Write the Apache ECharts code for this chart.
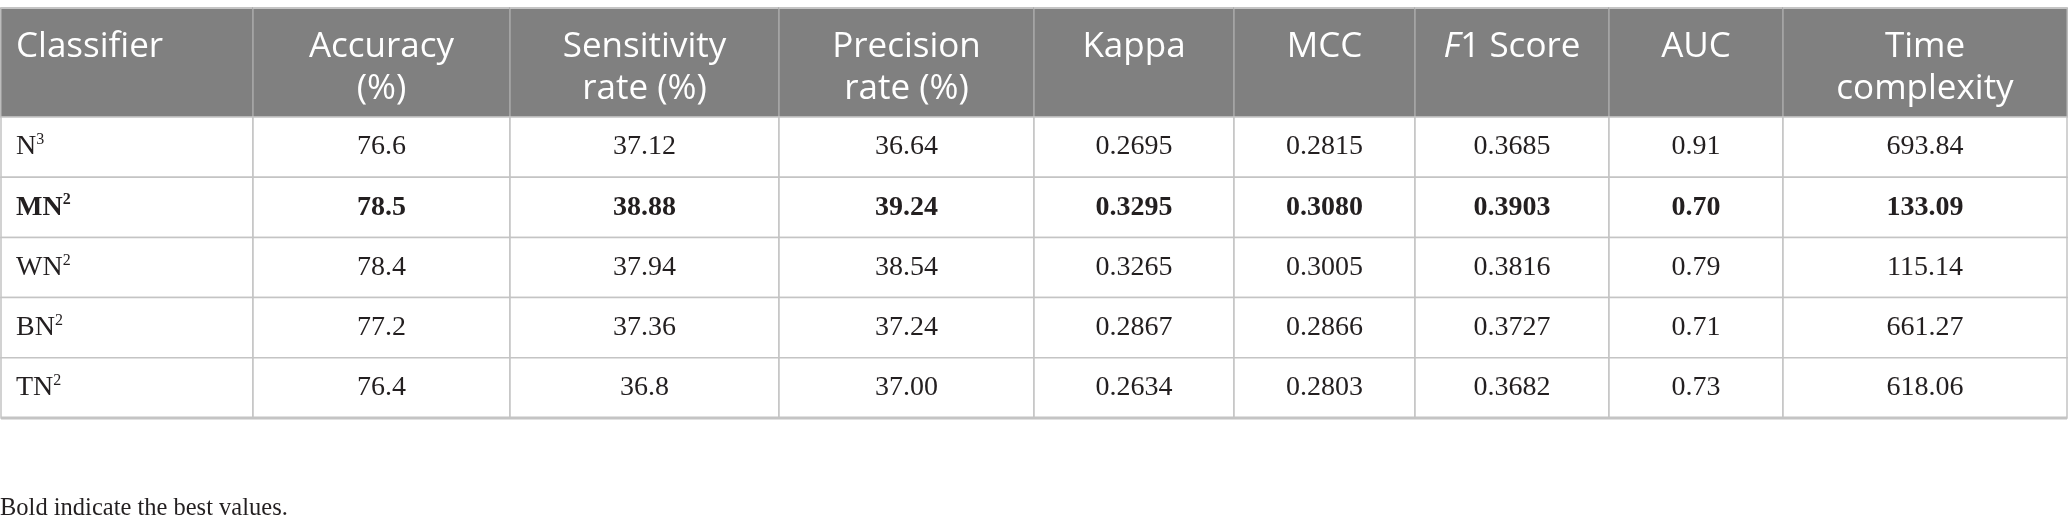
<!DOCTYPE html>
<html>
<head>
<meta charset="utf-8">
<title>Classifier comparison</title>
<script src="https://cdn.jsdelivr.net/npm/echarts@6/dist/echarts.min.js"></script>
<style>
html, body { margin: 0; padding: 0; background: #fff; }
#main { width: 2068px; height: 532px; }
</style>
</head>
<body>
<div id="main"></div>
<script>
// table content
var headers = ['Classifier', 'Accuracy\n(%)', 'Sensitivity\nrate (%)', 'Precision\nrate (%)', 'Kappa', 'MCC', 'F1 Score', 'AUC', 'Time\ncomplexity'];
var classifierBase = ['N', 'MN', 'WN', 'BN', 'TN'];
var classifierPower = ['3', '2', '2', '2', '2'];
var accuracy = ['76.6', '78.5', '78.4', '77.2', '76.4'];
var sensitivity = ['37.12', '38.88', '37.94', '37.36', '36.8'];
var precision = ['36.64', '39.24', '38.54', '37.24', '37.00'];
var kappa = ['0.2695', '0.3295', '0.3265', '0.2867', '0.2634'];
var mcc = ['0.2815', '0.3080', '0.3005', '0.2866', '0.2803'];
var f1Score = ['0.3685', '0.3903', '0.3816', '0.3727', '0.3682'];
var auc = ['0.91', '0.70', '0.79', '0.71', '0.73'];
var timeComplexity = ['693.84', '133.09', '115.14', '661.27', '618.06'];
var bestRow = 1;
var footnote = 'Bold indicate the best values.';

// layout: column widths in px units of the x axis, header height in row units
var colWidths = [252, 257, 269, 255, 200, 181, 194, 174, 284];
var headerSpan = 1.81;

var colEdges = [0];
colWidths.forEach(function (w, i) { colEdges.push(colEdges[i] + w); });
var columns = [null, accuracy, sensitivity, precision, kappa, mcc, f1Score, auc, timeComplexity];

var cells = [];
for (var r = -1; r < classifierBase.length; r++) {
    for (var c = 0; c < headers.length; c++) {
        cells.push([c, r]);
    }
}

var headFont = { fontFamily: '"Open Sans", "Noto Sans", sans-serif', fontSize: 35, fill: '#fff', lineHeight: 42 };
function headStyle(extra) {
    return Object.assign({}, headFont, extra || {});
}

function cellText(c, r) {
    if (r < 0) {
        if (c === 6) return '{hi|F}{h|1 Score}';
        return headers[c].split('\n').map(function (s) { return '{h|' + s + '}'; }).join('\n');
    }
    var w = r === bestRow ? 'b' : 'n';
    if (c === 0) return '{' + w + '|' + classifierBase[r] + '}{s' + w + '|' + classifierPower[r] + '}';
    return '{' + w + '|' + columns[c][r] + '}';
}

var bodyFont = { fontFamily: '"Liberation Serif", "DejaVu Serif", serif', fontSize: 28, fill: '#231f20', lineHeight: 30, verticalAlign: 'middle' };
var rich = {
    h: headStyle(),
    hi: headStyle({ fontStyle: 'italic' }),
    n: Object.assign({}, bodyFont),
    b: Object.assign({}, bodyFont, { fontWeight: 'bold' }),
    sn: Object.assign({}, bodyFont, { fontSize: 16, lineHeight: 16, verticalAlign: 'top' }),
    sb: Object.assign({}, bodyFont, { fontSize: 16, lineHeight: 16, verticalAlign: 'top', fontWeight: 'bold' })
};

function renderCell(params, api) {
    var c = api.value(0), r = api.value(1);
    var y0 = r < 0 ? 0 : headerSpan + r;
    var y1 = r < 0 ? headerSpan : headerSpan + r + 1;
    var p0 = api.coord([colEdges[c], y0]);
    var p1 = api.coord([colEdges[c + 1], y1]);
    var isHead = r < 0;
    var children = [{
        type: 'rect',
        shape: { x: p0[0], y: p0[1], width: p1[0] - p0[0], height: p1[1] - p0[1] },
        style: {
            fill: isHead ? '#808080' : '#fff',
            stroke: isHead ? '#a6a6a6' : '#c4c4c4',
            lineWidth: 1.5
        }
    }, {
        type: 'text',
        style: {
            text: cellText(c, r),
            rich: rich,
            x: c === 0 ? p0[0] + 15 : (p0[0] + p1[0]) / 2,
            y: isHead ? p0[1] + 18 : (p0[1] + p1[1]) / 2,
            align: c === 0 ? 'left' : 'center',
            verticalAlign: isHead ? 'top' : 'middle'
        }
    }];
    if (isHead) {
        children.push({
            type: 'line',
            shape: { x1: p0[0], y1: p0[1], x2: p1[0], y2: p0[1] },
            style: { stroke: '#c4c4c4', lineWidth: 2 }
        });
    }
    if (r === classifierBase.length - 1) {
        children.push({
            type: 'line',
            shape: { x1: p0[0], y1: p1[1], x2: p1[0], y2: p1[1] },
            style: { stroke: '#c4c4c4', lineWidth: 3 }
        });
    }
    return { type: 'group', children: children };
}

var myChart = echarts.init(document.getElementById('main'));
var option = {
    animation: false,
    title: {
        text: footnote,
        left: 0,
        top: 496,
        padding: 0,
        textStyle: {
            fontFamily: '"Liberation Serif", "DejaVu Serif", serif',
            fontSize: 24.5,
            fontWeight: 'normal',
            color: '#231f20'
        }
    },
    grid: { left: 1, right: 1, top: 8, bottom: 114 },
    xAxis: { type: 'value', min: 0, max: colEdges[colEdges.length - 1], show: false },
    yAxis: { type: 'value', min: 0, max: headerSpan + classifierBase.length, inverse: true, show: false },
    series: [{
        type: 'custom',
        renderItem: renderCell,
        data: cells,
        clip: false,
        silent: true
    }]
};
myChart.setOption(option);
</script>
</body>
</html>
